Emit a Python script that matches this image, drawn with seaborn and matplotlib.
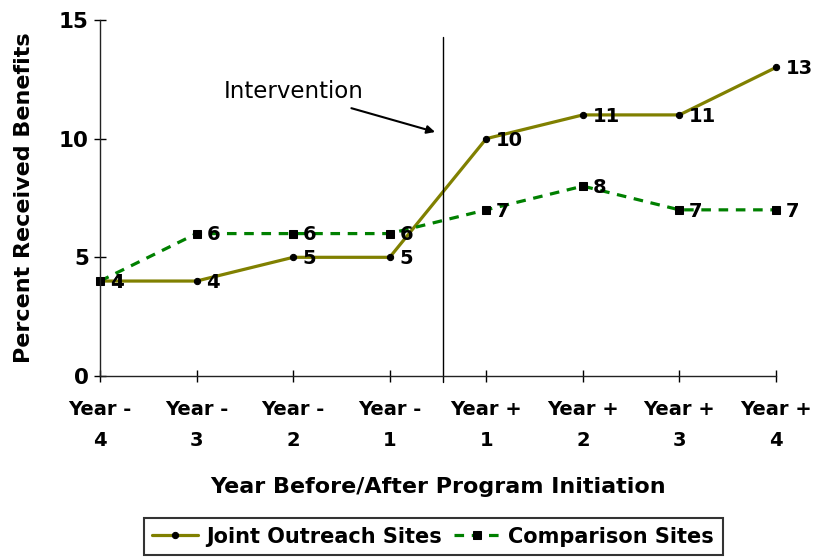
import numpy as np
import pandas as pd
import matplotlib
matplotlib.use("Agg")
import matplotlib.pyplot as plt
import seaborn as sns

# data
years = ["Year -\n4", "Year -\n3", "Year -\n2", "Year -\n1",
         "Year +\n1", "Year +\n2", "Year +\n3", "Year +\n4"]
joint_outreach = [4, 4, 5, 5, 10, 11, 11, 13]
comparison = [4, 6, 6, 6, 7, 8, 7, 7]

sns.set_style("ticks")
plt.rcParams['font.family'] = ['DejaVu Sans']
plt.rcParams['text.color'] = 'black'
plt.rcParams['axes.labelcolor'] = 'black'
plt.rcParams['xtick.color'] = 'black'
plt.rcParams['ytick.color'] = 'black'

df = pd.DataFrame({
    "pos": list(range(len(years))) * 2,
    "value": joint_outreach + comparison,
    "series": ["Joint Outreach Sites"] * len(years) + ["Comparison Sites"] * len(years),
})

fig = plt.figure(figsize=(8.17, 5.58), dpi=100)
ax = fig.add_axes([0.1224, 0.3262, 0.8274, 0.638])

sns.lineplot(data=df[df.series == "Joint Outreach Sites"], x="pos", y="value",
             color="#808000", linewidth=2.3, marker="o", markersize=4.5,
             markerfacecolor="black", markeredgecolor="black",
             label="Joint Outreach Sites", ax=ax, clip_on=False, legend=False)
sns.lineplot(data=df[df.series == "Comparison Sites"], x="pos", y="value",
             color="#008000", linewidth=2.3, linestyle=(0, (3, 2.4)), marker="s",
             markersize=6, markerfacecolor="black", markeredgecolor="black",
             label="Comparison Sites", ax=ax, clip_on=False, legend=False)

# value labels
for i, v in enumerate(joint_outreach):
    ax.annotate(str(v), (i, v), xytext=(7, -1), textcoords="offset points",
                ha="left", va="center", fontsize=14, fontweight="bold")
for i, v in enumerate(comparison):
    ax.annotate(str(v), (i, v), xytext=(7, -1), textcoords="offset points",
                ha="left", va="center", fontsize=14, fontweight="bold")

# intervention marker
ax.plot([3.55, 3.55], [-0.25, 14.3], color="black", linewidth=1, clip_on=False)
ax.annotate("Intervention", xy=(3.47, 10.28), xytext=(2.01, 11.97),
            ha="center", va="center", fontsize=16.5,
            arrowprops=dict(arrowstyle="-|>", color="black", lw=1.5,
                            shrinkA=4, shrinkB=0, mutation_scale=12))

ax.set_xlim(0, 7)
ax.set_ylim(0, 15)
ax.set_yticks([0, 5, 10, 15])
ax.set_xticks(range(len(years)))
ax.set_xticklabels(years, fontsize=14, fontweight="bold", linespacing=1.75)
ax.tick_params(axis="y", labelsize=15.5, direction="inout", length=9, width=1)
ax.tick_params(axis="x", direction="inout", length=9, width=1, pad=13)
for lbl in ax.get_yticklabels():
    lbl.set_fontweight("bold")
ax.set_ylabel("Percent Received Benefits", fontsize=16, fontweight="bold", labelpad=18)
ax.set_xlabel("Year Before/After Program Initiation", fontsize=16,
              fontweight="bold", labelpad=20)
sns.despine(ax=ax)
for s in ["left", "bottom"]:
    ax.spines[s].set_color("#222222")
    ax.spines[s].set_linewidth(1)

handles, labels = ax.get_legend_handles_labels()
leg = fig.legend(handles, labels, loc="lower center", bbox_to_anchor=(0.53, 0.0),
                 ncol=2, frameon=True, fancybox=False, edgecolor="black",
                 prop={"weight": "bold", "size": 15}, handlelength=2.2,
                 columnspacing=0.6, handletextpad=0.4, borderpad=0.4,
                 borderaxespad=0.15)
leg.get_frame().set_linewidth(1.5)

fig.savefig("out.png", dpi=100)
